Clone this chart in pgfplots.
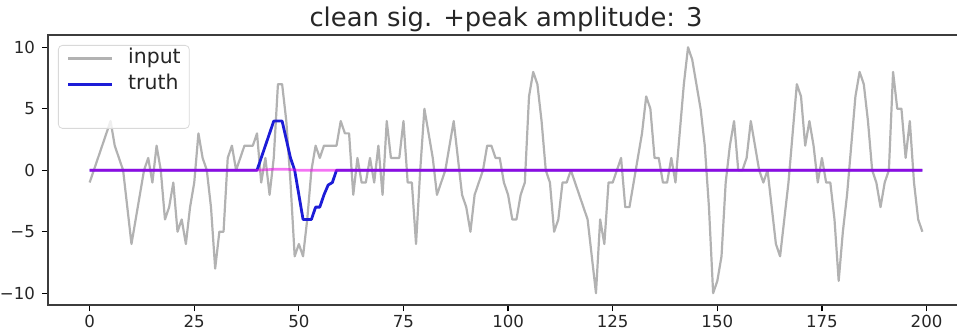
\documentclass[border=0pt]{standalone}
\usepackage{fontspec}
\setmainfont{DejaVu Sans}
\usepackage{pgfplots}
\usepackage{pgfplotstable}
\pgfplotsset{compat=1.18}
\definecolor{ingray}{RGB}{178,178,178}
\definecolor{trublue}{RGB}{28,28,215}
\definecolor{predmag}{RGB}{235,0,235}
\definecolor{spine}{RGB}{60,60,60}

\pgfplotstableread{
x y
0 -1
1 0
2 1
3 2
4 3
5 4
6 2
7 1
8 0
9 -3
10 -6
11 -4
12 -2
13 0
14 1
15 -1
16 2
17 0
18 -4
19 -3
20 -1
21 -5
22 -4
23 -6
24 -3
25 -1
26 3
27 1
28 0
29 -3
30 -8
31 -5
32 -5
33 1
34 2
35 0
36 1
37 2
38 2
39 2
40 3
41 -1
42 1
43 -2
44 1
45 7
46 7
47 4
48 -1
49 -7
50 -6
51 -7
52 -4
53 0
54 2
55 1
56 2
57 2
58 2
59 2
60 4
61 3
62 3
63 -2
64 1
65 -1
66 -1
67 1
68 -1
69 2
70 -2
71 4
72 1
73 1
74 1
75 4
76 -1
77 -1
78 -6
79 0
80 5
81 3
82 1
83 -2
84 -1
85 0
86 2
87 4
88 1
89 -2
90 -3
91 -5
92 -2
93 -1
94 0
95 2
96 2
97 1
98 1
99 -1
100 -2
101 -4
102 -4
103 -2
104 -1
105 6
106 8
107 7
108 4
109 0
110 -1
111 -5
112 -4
113 -1
114 -1
115 0
116 -1
117 -2
118 -3
119 -4
120 -7
121 -10
122 -4
123 -6
124 -1
125 -1
126 0
127 1
128 -3
129 -3
130 -1
131 1
132 3
133 6
134 5
135 1
136 1
137 -1
138 -1
139 1
140 -1
141 3
142 7
143 10
144 9
145 7
146 5
147 2
148 -3
149 -10
150 -9
151 -7
152 -1
153 2
154 4
155 0
156 0
157 1
158 4
159 2
160 0
161 -1
162 0
163 -3
164 -6
165 -7
166 -4
167 -1
168 3
169 7
170 6
171 2
172 4
173 2
174 -1
175 1
176 -1
177 -1
178 -4
179 -9
180 -5
181 -2
182 2
183 6
184 8
185 7
186 4
187 0
188 -1
189 -3
190 -1
191 0
192 8
193 5
194 5
195 1
196 4
197 -1
198 -4
199 -5
}\inputdata

\pgfplotstableread{
x y
0 0
40 0
41 1
42 2
43 3
44 4
45 4
46 4
47 2.5
48 1
49 0
50 -2
51 -4
52 -4
53 -4
54 -3
55 -3
56 -2
57 -1.2
58 -1
59 0
199 0
}\truthdata

\pgfplotstableread{
x y
0 0
40 0
44 0.08
47 0.08
50 0
199 0
}\preddata

\begin{document}
\begin{tikzpicture}
\begin{axis}[
  name=ax,
  scale only axis,
  width=458pt, height=135.25pt,
  xmin=-9.95, xmax=208.95, ymin=-11, ymax=11,
  xtick={0,25,50,75,100,125,150,175,200},
  xticklabels={0,25,50,75,100,125,150,175,200},
  ytick={-10,-5,0,5,10},
  yticklabels={−10,−5,0,5,10},
  tick align=outside, major tick length=3pt, tick pos=left,
  tick style={black, line width=0.6pt},
  axis line style={spine, line width=1pt},
  ticklabel style={font=\fontsize{8.3}{10}\selectfont, text=black!85},
  xticklabel style={yshift=1.6pt},
  title={clean sig. +peak amplitude: 3},
  title style={at={(0.5,1)}, anchor=base, yshift=-1.8pt, inner sep=0pt,
    font=\fontsize{12.9}{15}\selectfont, text=black!85},
  legend cell align=left,
  legend image code/.code={\draw[#1] (0pt,1.2pt) -- (21.7pt,1.2pt);},
  legend style={at={(axis description cs:0,1)}, anchor=north west,
    xshift=5pt, yshift=-5pt, draw=black!15, rounded corners=2pt,
    fill=white, fill opacity=0.8, text opacity=1,
    font=\fontsize{10.2}{12}\selectfont, text=black!85,
    inner xsep=4.3pt, inner ysep=1.25pt,
    nodes={inner sep=0pt, text height=8.0pt, text depth=5.0pt},
    /tikz/every odd column/.append style={column sep=7.5pt}},
]
\addplot[ingray, line width=1.1pt, line join=round] table[x=x,y=y] {\inputdata};
\addlegendentry{input}
\addplot[trublue, line width=1.4pt, line join=round] table[x=x,y=y] {\truthdata};
\addlegendentry{truth}
\addplot[predmag, opacity=0.55, line width=1.3pt, forget plot] table[x=x,y=y] {\preddata};
\addlegendimage{opacity=0}
\addlegendentry{}
\end{axis}
\pgfresetboundingbox
\path[use as bounding box] ([shift={(-24pt,-12pt)}]ax.south west) rectangle ([shift={(-3.5pt,17.5pt)}]ax.north east);
\end{tikzpicture}
\end{document}
